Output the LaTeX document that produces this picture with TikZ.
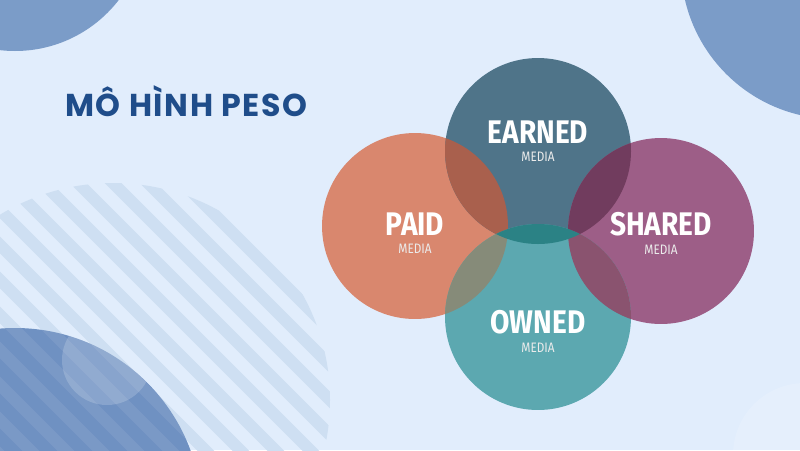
\documentclass[tikz,border=0pt]{standalone}
\usepackage{fontspec}
\newfontfamily\titlefont{Poppins}[LetterSpace=5]
\newfontfamily\lblfont{Fira Sans}[FakeStretch=0.86]
\definecolor{peso_bg}{HTML}{E1EDFC}
\definecolor{peso_deco}{HTML}{7B9CC8}
\definecolor{peso_deep}{HTML}{6F91C2}
\definecolor{peso_stripe}{HTML}{CEDFF2}
\definecolor{peso_title}{HTML}{1F4D8A}
\definecolor{peso_paid}{HTML}{D9876E}
\definecolor{peso_earned}{HTML}{4F7489}
\definecolor{peso_shared}{HTML}{9D5E87}
\definecolor{peso_owned}{HTML}{5CA8B0}
\definecolor{peso_pe}{HTML}{A9604D}
\definecolor{peso_es}{HTML}{713C5E}
\definecolor{peso_po}{HTML}{868B79}
\definecolor{peso_os}{HTML}{8A536F}
\definecolor{peso_eo}{HTML}{2B8285}
\usetikzlibrary{positioning}

\begin{document}
\begin{tikzpicture}[
        x=0.02cm, y=-0.02cm,
        media/.style={circle, inner sep=0pt, minimum size=3.72cm},
        word/.style={inner sep=0pt, anchor=base, text=white,
                     font=\lblfont\bfseries\fontsize{18.6}{19}\selectfont},
        sub/.style={inner sep=0pt, text=white!92!black,
                    font=\lblfont\fontsize{7.8}{8}\selectfont},
        stripe/.style={line width=12*0.02cm},
      ]
        \useasboundingbox (0,0) rectangle (800,450);
        \fill[peso_bg] (0,0) rectangle (800,450);

        % background decoration
        \fill[peso_deco] (15,-80) circle[radius=131];
        \fill[peso_deco] (835,-35) circle[radius=154];
        \fill[white, opacity=0.15] (805,455) circle[radius=72];
        \begin{scope}
          \clip (113,400) circle[radius=217];
          \foreach \k in {-17,...,6}
            \draw[stripe, peso_stripe] (\k*35-400,-400) -- ++(1000,1000);
        \end{scope}
        \fill[peso_deep] (15,515) circle[radius=187];
        \begin{scope}
          \clip (15,515) circle[radius=187];
          \foreach \k in {-17,...,6}
            \draw[stripe, white, opacity=0.08] (\k*35-400,-400) -- ++(1000,1000);
          \fill[white, opacity=0.18] (107,360) circle[radius=45];
        \end{scope}

        \node[peso_title, anchor=base west, inner sep=0pt,
              font=\titlefont\bfseries\fontsize{18}{20}\selectfont]
              (title) at (65,116) {MÔ HÌNH PESO};

        % the four media circles
        \node[media, fill=peso_paid]   (paid)   at (415,226) {};
        \node[media, fill=peso_earned] (earned) at (538,151) {};
        \node[media, fill=peso_shared] (shared) at (661,231) {};
        \node[media, fill=peso_owned]  (owned)  at (538,317) {};

        % overlaps
        \begin{scope}
          \clip (paid.center) circle[radius=93];
          \fill[peso_pe] (earned.center) circle[radius=93];
          \fill[peso_po] (owned.center) circle[radius=93];
        \end{scope}
        \begin{scope}
          \clip (shared.center) circle[radius=93];
          \fill[peso_es] (earned.center) circle[radius=93];
          \fill[peso_os] (owned.center) circle[radius=93];
        \end{scope}
        \begin{scope}
          \clip (earned.center) circle[radius=93];
          \fill[peso_eo] (owned.center) circle[radius=93];
        \end{scope}

        \node[word] (earnedw) at (538,143) {EARNED};
        \node[sub, below=5pt of earnedw] {MEDIA};
        \node[word] (paidw) at (415,235) {PAID};
        \node[sub, below=5pt of paidw] {MEDIA};
        \node[word] (sharedw) at (661,235) {SHARED};
        \node[sub, below=5pt of sharedw] {MEDIA};
        \node[word] (ownedw) at (538,333) {OWNED};
        \node[sub, below=5pt of ownedw] {MEDIA};
      \end{tikzpicture}
\end{document}
